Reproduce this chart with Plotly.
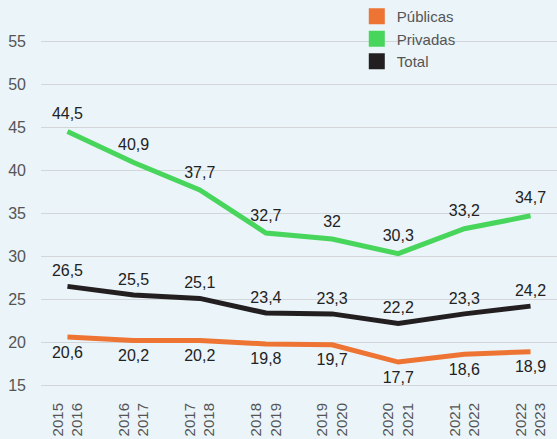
import plotly.graph_objects as go

categories = ["2015<br>2016", "2016<br>2017", "2017<br>2018", "2018<br>2019",
              "2019<br>2020", "2020<br>2021", "2021<br>2022", "2022<br>2023"]
publicas = [20.6, 20.2, 20.2, 19.8, 19.7, 17.7, 18.6, 18.9]
privadas = [44.5, 40.9, 37.7, 32.7, 32, 30.3, 33.2, 34.7]
total = [26.5, 25.5, 25.1, 23.4, 23.3, 22.2, 23.3, 24.2]
y_ticks = [15, 20, 25, 30, 35, 40, 45, 50, 55]

C_PUB = "#ee7433"
C_PRI = "#47d55b"
C_TOT = "#231f20"
BG = "#eaf4f9"
FONT = "Liberation Sans, Arial, sans-serif"


def lab(vals):
    return [f"{v:g}".replace(".", ",") for v in vals]


xs = list(range(len(categories)))
fig = go.Figure()


def add_line(vals, color, pos, msize):
    fig.add_trace(go.Scatter(
        x=xs, y=vals, mode="lines+markers+text", text=lab(vals), textposition=pos,
        textfont=dict(size=16, color="#222222", family=FONT),
        marker=dict(size=msize, opacity=0, color=color),
        line=dict(color=color, width=5), showlegend=False, cliponaxis=False,
        hoverinfo="skip"))


add_line(publicas, C_PUB, "bottom center", 12)
add_line(privadas, C_PRI, "top center", 12)
add_line(total, C_TOT, "top center", 8)

for name, color in [("Públicas", C_PUB), ("Privadas", C_PRI), ("Total", C_TOT)]:
    fig.add_trace(go.Scatter(x=[None], y=[None], mode="markers", name=name,
                             marker=dict(symbol="square", size=16, color=color)))

fig.update_layout(
    width=557, height=439,
    margin=dict(l=41, r=0, t=19.6, b=52.3),
    paper_bgcolor=BG, plot_bgcolor=BG,
    font=dict(family=FONT, color="#555555", size=15),
    legend=dict(x=0.612, y=1.066, xanchor="left", yanchor="top",
                bgcolor="rgba(0,0,0,0)", font=dict(size=15, color="#555555"),
                tracegroupgap=0, itemwidth=30),
    xaxis=dict(range=[-0.4, 7.4], tickmode="array", tickvals=xs, ticktext=categories,
               tickangle=-90, showgrid=False, zeroline=False, showline=False,
               tickfont=dict(size=15, color="#555555"), ticklabelstandoff=12,
               automargin=False),
    yaxis=dict(range=[14.8, 57], tickmode="array", tickvals=y_ticks,
               showgrid=True, gridcolor="#d2d6d8", gridwidth=1, zeroline=False,
               showline=False, tickfont=dict(size=16, color="#555555"),
               ticklabelstandoff=14, automargin=False),
)

fig.write_html("out.html", config={"displayModeBar": False},
               post_script="document.body.style.margin='0';document.body.style.background='" + BG + "';")
